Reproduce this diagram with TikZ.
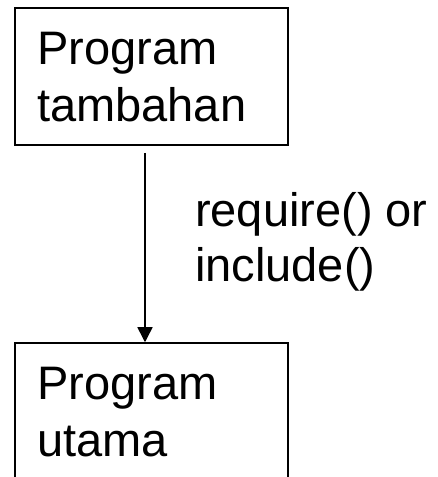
\documentclass[tikz,border=0pt]{standalone}
\usepackage{fontspec}
\setmainfont{Liberation Sans}
\usetikzlibrary{arrows.meta}
\begin{document}
\begin{tikzpicture}[x=1pt,y=1pt,
  boxstyle/.style={draw=black, line width=1.5pt, inner sep=0pt, fill=none},
  txt/.style={font=\fontsize{47}{56}\selectfont, inner sep=0pt, anchor=base west},
  conn/.style={line width=1.5pt, -{Triangle[length=15pt,width=15pt]}}]
\clip (0,0) rectangle (438,477);
\fill[white] (0,0) rectangle (438,477);
\node[boxstyle, minimum width=273pt, minimum height=137pt] (top) at (151.5,400.5) {};
\node[boxstyle, minimum width=273pt, minimum height=200pt] (bot) at (151.5,34) {};
\node[txt] (t1) at (37,412) {Program};
\node[txt] (t2) at (37,355) {tambahan};
\node[txt] (b1) at (37,77) {Program};
\node[txt] (b2) at (37,20) {utama};
\node[txt] (l1) at (195,250) {require() or};
\node[txt] (l2) at (195,195) {include()};
\coordinate (s) at (145,324);
\draw[conn] (s) -- (s |- bot.north);
\end{tikzpicture}
\end{document}
